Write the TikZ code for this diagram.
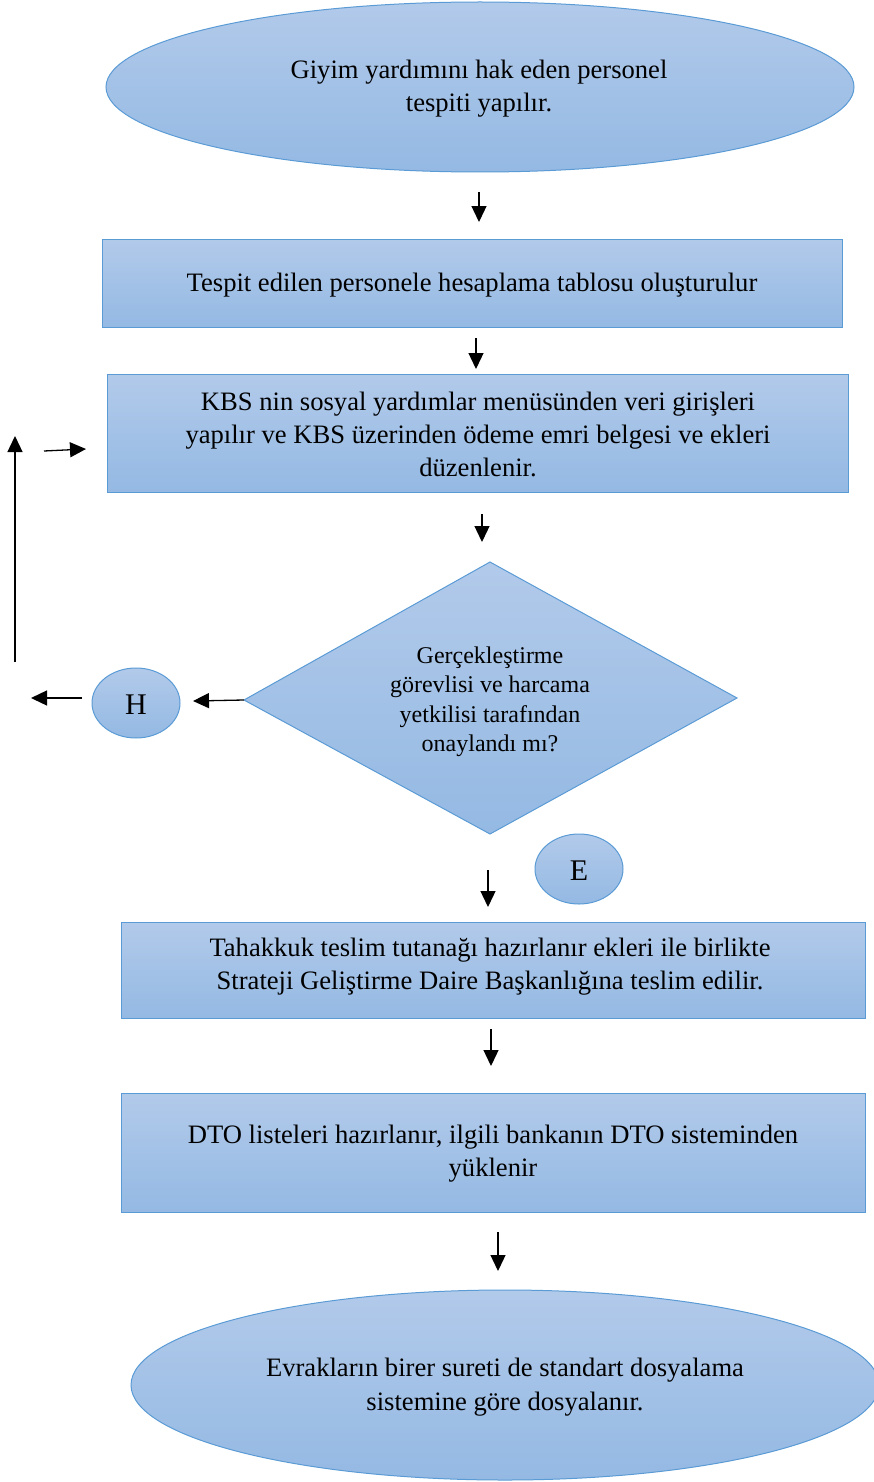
\documentclass[tikz,border=0pt]{standalone}
\usepackage{fontspec}
\setmainfont{Liberation Serif}
\usetikzlibrary{arrows.meta,shapes.geometric}
\tikzset{
  fillblue/.style={draw=boxline, line width=1pt, top color=topblue, bottom color=botblue, shading angle=0},
  arr/.style={line width=1.3pt, -{Triangle[width=15pt,length=16pt]}},
  txt/.style={align=center, font=\fontsize{26.6}{33}\selectfont, inner sep=0pt},
  bigtxt/.style={align=center, font=\fontsize{30}{33}\selectfont, inner sep=0pt},
  smalltxt/.style={align=center, font=\fontsize{24}{29.5}\selectfont, inner sep=0pt},
}
\definecolor{topblue}{RGB}{178,202,234}
\definecolor{botblue}{RGB}{148,185,227}
\definecolor{boxline}{RGB}{91,155,213}
\begin{document}
\begin{tikzpicture}[x=1pt,y=-1pt]
\useasboundingbox (0,0) rectangle (874,1482);
\clip (0,0) rectangle (874,1482);
% top ellipse
\node[fillblue, ellipse, minimum width=748pt, minimum height=170pt, inner sep=0pt] (start) at (480,87) {};
\node[txt] (starttxt) at (479,89) {Giyim yardımını hak eden personel\\tespiti yapılır.};
% rect 1
\node[fillblue, rectangle, minimum width=740pt, minimum height=88pt, inner sep=0pt] (r1) at (472,283) {};
\node[txt] (r1txt) at (472,285) {Tespit edilen personele hesaplama tablosu oluşturulur};
% rect 2
\node[fillblue, rectangle, minimum width=741pt, minimum height=118pt, inner sep=0pt] (r2) at (477.5,433) {};
\node[txt] (r2txt) at (478,434) {KBS nin sosyal yardımlar menüsünden veri girişleri\\yapılır ve KBS üzerinden ödeme emri belgesi ve ekleri\\düzenlenir.};
% diamond
\draw[fillblue] (490,562) coordinate (dt) -- (737,698) coordinate (dr) -- (490,834) coordinate (db) -- (244,700) coordinate (dl) -- cycle;
\node[smalltxt] (dtxt) at (490,702) {Gerçekleştirme\\görevlisi ve harcama\\yetkilisi tarafından\\onaylandı mı?};
% H
\node[fillblue, ellipse, minimum width=88pt, minimum height=70pt, inner sep=0pt] (H) at (136,703) {};
\node[bigtxt] (Htxt) at (136,705) {H};
% E
\node[fillblue, ellipse, minimum width=88pt, minimum height=70pt, inner sep=0pt] (E) at (579,869) {};
\node[bigtxt] (Etxt) at (579,871) {E};
% rect 3
\node[fillblue, rectangle, minimum width=744pt, minimum height=96pt, inner sep=0pt] (r3) at (493,970) {};
\node[txt] (r3txt) at (490,967) {Tahakkuk teslim tutanağı hazırlanır ekleri ile birlikte\\Strateji Geliştirme Daire Başkanlığına teslim edilir.};
% rect 4
\node[fillblue, rectangle, minimum width=744pt, minimum height=119pt, inner sep=0pt] (r4) at (493,1152.5) {};
\node[txt] (r4txt) at (493,1154) {DTO listeleri hazırlanır, ilgili bankanın DTO sisteminden\\yüklenir};
% bottom ellipse
\node[fillblue, ellipse, minimum width=748pt, minimum height=190pt, inner sep=0pt] (end) at (505,1385) {};
\node[align=center, font=\fontsize{26.6}{34}\selectfont, inner sep=0pt] (endtxt) at (505,1387) {Evrakların birer sureti de standart dosyalama\\sistemine göre dosyalanır.};
% arrows
\coordinate (a1s) at (479,192); \coordinate (a1e) at (479,222);
\coordinate (a2s) at (476,338); \coordinate (a2e) at (476,369);
\coordinate (a3s) at (482,514); \coordinate (a3e) at (482,542);
\coordinate (a4e) at (193,701);
\coordinate (a5s) at (82,698); \coordinate (a5e) at (31,698);
\coordinate (a6s) at (15,662); \coordinate (a6e) at (15,436);
\coordinate (a7s) at (44,451); \coordinate (a7e) at (86,449);
\coordinate (a8s) at (488,870); \coordinate (a8e) at (488,907);
\coordinate (a9s) at (491,1029); \coordinate (a9e) at (491,1066);
\coordinate (a10s) at (498,1232); \coordinate (a10e) at (498,1271);
\draw[arr] (a1s) -- (a1e);
\draw[arr] (a2s) -- (a2e);
\draw[arr] (a3s) -- (a3e);
\draw[arr] (dl) -- (a4e);
\draw[arr] (a5s) -- (a5e);
\draw[arr] (a6s) -- (a6e);
\draw[arr] (a7s) -- (a7e);
\draw[arr] (a8s) -- (a8e);
\draw[arr] (a9s) -- (a9e);
\draw[arr] (a10s) -- (a10e);
\end{tikzpicture}
\end{document}
